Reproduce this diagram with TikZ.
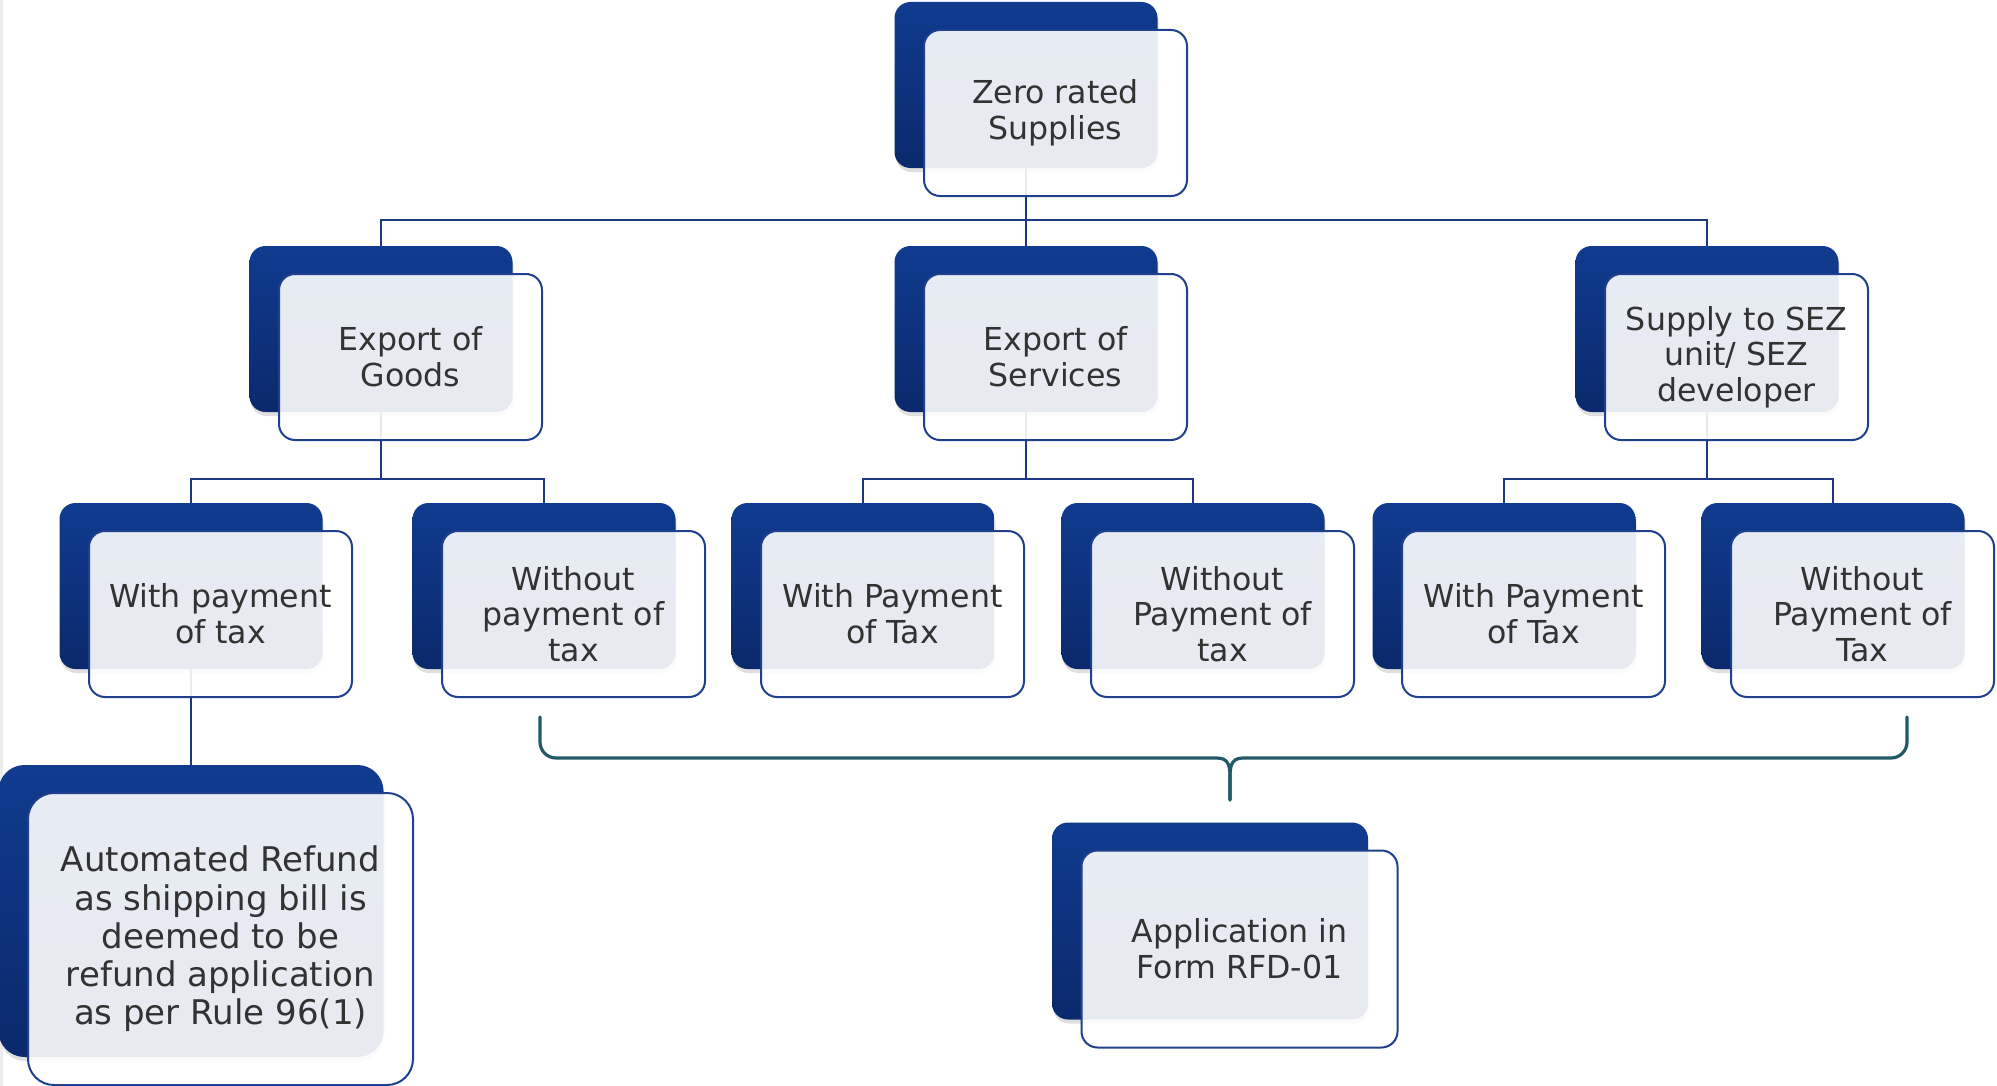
\documentclass[tikz,border=0pt]{standalone}
\usepackage{fontspec}
\setmainfont{DejaVu Sans}
\usetikzlibrary{shadows}
\definecolor{boxtop}{RGB}{16,59,143}
\definecolor{boxbot}{RGB}{11,41,108}
\definecolor{boxline}{RGB}{31,64,140}
\definecolor{connblue}{RGB}{28,56,128}
\definecolor{bracecol}{RGB}{33,89,104}
\definecolor{txt}{RGB}{50,50,50}
\pgfdeclarelayer{bg}
\pgfsetlayers{bg,main}

\begin{document}
\begin{tikzpicture}[x=0.5pt,y=-0.5pt,
    backbox/.style={rectangle,rounded corners=8pt,inner sep=0pt,minimum width=131.5pt,minimum height=83pt,
      top color=boxtop,bottom color=boxbot,drop shadow={shadow xshift=0.5pt,shadow yshift=-2pt,opacity=0.25}},
    frontbox/.style={rectangle,rounded corners=8pt,inner sep=0pt,minimum width=131.5pt,minimum height=83pt,
      draw=boxline,line width=1pt,fill=white,fill opacity=0.9,text opacity=1,text=txt,align=center,
      font=\fontsize{15.8}{17.8}\selectfont,xshift=14.75pt,yshift=-14pt},
    conn/.style={draw=connblue,line width=1.1pt},
    bracepath/.style={draw=bracecol,line width=1.6pt,line cap=round,line join=round}]
      \useasboundingbox (0,0) rectangle (1997,1086);
      \fill[gray!15] (0,0) rectangle (3,1086);

      % top
      \node[backbox] (rootb) at (1026,85) {};
      \node[frontbox] (root) at (rootb) {Zero rated\\Supplies};

      % second row
      \node[backbox] (goodsb) at (381,329) {};
      \node[frontbox] (goods) at (goodsb) {Export of\\Goods};
      \node[backbox] (servb) at (1026,329) {};
      \node[frontbox] (serv) at (servb) {Export of\\Services};
      \node[backbox] (sezb) at (1707,329) {};
      \node[frontbox] (sez) at (sezb) {Supply to SEZ\\unit/ SEZ\\developer};

      % third row
      \node[backbox] (gwithb) at (191,586) {};
      \node[frontbox] (gwith) at (gwithb) {With payment\\of tax};
      \node[backbox] (gwob) at (544,586) {};
      \node[frontbox] (gwo) at (gwob) {Without\\payment of\\tax};
      \node[backbox] (swithb) at (863,586) {};
      \node[frontbox] (swith) at (swithb) {With Payment\\of Tax};
      \node[backbox] (swob) at (1193,586) {};
      \node[frontbox] (swo) at (swob) {Without\\Payment of\\tax};
      \node[backbox] (zwithb) at (1504,586) {};
      \node[frontbox] (zwith) at (zwithb) {With Payment\\of Tax};
      \node[backbox] (zwob) at (1833,586) {};
      \node[frontbox] (zwo) at (zwob) {Without\\Payment of\\Tax};

      % results
      \node[backbox,minimum width=192.5pt,minimum height=146pt,rounded corners=13pt] (autob) at (191,911) {};
      \node[frontbox,minimum width=192.5pt,minimum height=146pt,rounded corners=13pt,
        font=\fontsize{17}{19.1}\selectfont] (auto) at (autob)
        {Automated Refund\\as shipping bill is\\deemed to be\\refund application\\as per Rule 96(1)};
      \node[backbox,minimum width=158pt,minimum height=98.5pt] (appb) at (1210,921) {};
      \node[frontbox,minimum width=158pt,minimum height=98.5pt] (app) at (appb) {Application in\\Form RFD-01};

      \coordinate (bus1) at (0,220);
      \coordinate (bus2) at (0,479);
      \coordinate (braceL) at (540,717);
      \coordinate (braceR) at (1907,717);
      \coordinate (braceT) at (1230,800);

      \begin{pgfonlayer}{bg}
        \draw[conn] (rootb.center) -- (servb.center);
        \draw[conn] (goodsb.center) |- (rootb.center |- bus1) -| (sezb.center);
        \draw[conn] (goodsb.center) -- (goodsb.center |- bus2);
        \draw[conn] (gwithb.center) |- (goodsb.center |- bus2) -| (gwob.center);
        \draw[conn] (servb.center) -- (servb.center |- bus2);
        \draw[conn] (swithb.center) |- (servb.center |- bus2) -| (swob.center);
        \draw[conn] (sezb.center) -- (sezb.center |- bus2);
        \draw[conn] (zwithb.center) |- (sezb.center |- bus2) -| (zwob.center);
        \draw[conn] (gwithb.center) -- (autob.center);
      \end{pgfonlayer}

      % brace
      \draw[bracepath] (braceL) [rounded corners=8pt] |- (1200,758) [sharp corners] -- (1216,758)
        .. controls (1226,758) and (1230,762) .. (1230,776) -- (braceT);
      \draw[bracepath] (braceR) [rounded corners=8pt] |- (1260,758) [sharp corners] -- (1244,758)
        .. controls (1234,758) and (1230,762) .. (1230,776) -- (braceT);
\end{tikzpicture}
\end{document}
